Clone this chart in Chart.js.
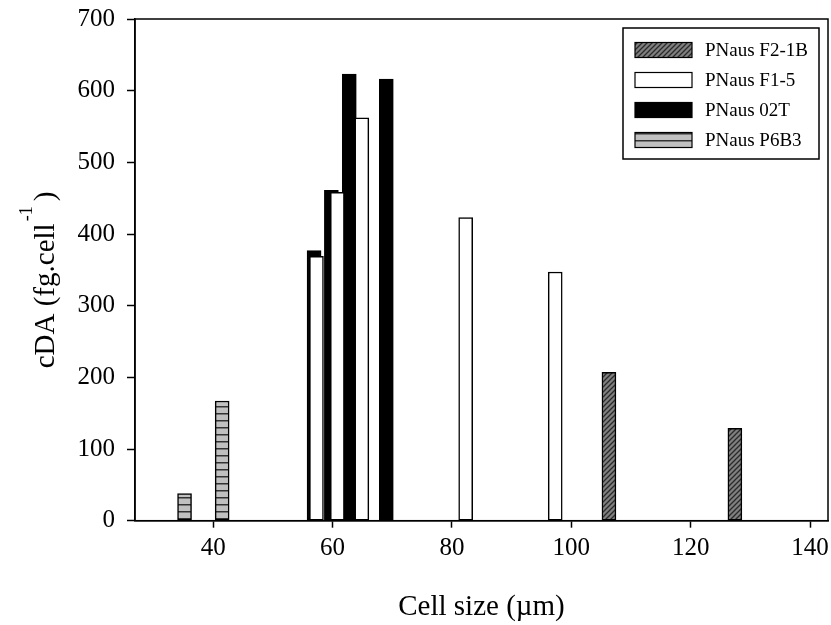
<!DOCTYPE html>
<html>
<head>
<meta charset="utf-8">
<script src="https://cdn.jsdelivr.net/npm/chart.js@4.4.0/dist/chart.umd.min.js"></script>
<style>
  html, body { margin: 0; padding: 0; background: #ffffff; }
  #wrap { width: 831px; height: 625px; }
</style>
</head>
<body>
<div id="wrap"><canvas id="chart" width="831" height="625"></canvas></div>
<script>
const seriesNames = ["PNaus F2-1B", "PNaus F1-5", "PNaus 02T", "PNaus P6B3"];

// cell size (µm) and cDA (fg/cell) per strain
const f21bSize = [106.3, 127.4];
const f21bCda = [207, 129];
const f15Size = [57.3, 60.8, 64.9, 82.3, 97.3];
const f15Cda = [369, 458, 562, 423, 347];
const t02Size = [56.9, 59.8, 62.8, 69.0];
const t02Cda = [377, 461, 623, 616];
const p6b3Size = [35.2, 41.5];
const p6b3Cda = [38, 167];

const xTicks = [40, 60, 80, 100, 120, 140];

const FONT = "'Liberation Serif', 'DejaVu Serif', serif";

function toPoints(xs, ys) {
  return xs.map((x, i) => ({ x: x, y: ys[i] }));
}

function makeHatch() {
  const c = document.createElement("canvas");
  c.width = 5; c.height = 5;
  const g = c.getContext("2d");
  g.fillStyle = "#808080";
  g.fillRect(0, 0, 5, 5);
  g.strokeStyle = "#2a2a2a";
  g.lineWidth = 1.3;
  g.beginPath();
  g.moveTo(-1, 6); g.lineTo(6, -1);
  g.moveTo(-1, 1); g.lineTo(1, -1);
  g.moveTo(4, 6); g.lineTo(6, 4);
  g.stroke();
  return g.createPattern(c, "repeat");
}

function makeStripes() {
  const c = document.createElement("canvas");
  c.width = 7; c.height = 7;
  const g = c.getContext("2d");
  g.fillStyle = "#c0c0c0";
  g.fillRect(0, 0, 7, 7);
  g.fillStyle = "#333333";
  g.fillRect(0, 0, 7, 1.5);
  return g.createPattern(c, "repeat");
}

const fills = [makeHatch(), "#ffffff", "#000000", makeStripes()];

// box round the plot area and the y title with its superscript
const framePlugin = {
  id: "frame",
  afterDraw(chart) {
    const { ctx, chartArea: a } = chart;
    ctx.save();
    ctx.strokeStyle = "#000";
    ctx.lineWidth = 1.5;
    ctx.strokeRect(a.left, a.top, a.right - a.left, a.bottom - a.top);

    ctx.translate(44, 280);
    ctx.rotate(-Math.PI / 2);
    ctx.fillStyle = "#000";
    ctx.textBaseline = "alphabetic";
    ctx.textAlign = "left";
    ctx.font = "29px " + FONT;
    const main = "cDA (fg.cell";
    const w1 = ctx.measureText(main).width;
    const total = w1 + 22 + ctx.measureText(")").width;
    let x = -total / 2;
    ctx.fillText(main, x, 10);
    ctx.font = "18px " + FONT;
    ctx.fillText("-1", x + w1 + 2, -12);
    ctx.font = "29px " + FONT;
    ctx.fillText(")", x + w1 + 22, 10);
    ctx.restore();
  }
};

// legend inside the plot, top right
const legendPlugin = {
  id: "boxLegend",
  afterDraw(chart) {
    const { ctx } = chart;
    const left = 623, top = 28, w = 196, h = 131;
    ctx.save();
    ctx.fillStyle = "#fff";
    ctx.fillRect(left, top, w, h);
    ctx.strokeStyle = "#000";
    ctx.lineWidth = 1.5;
    ctx.strokeRect(left, top, w, h);
    ctx.font = "19px " + FONT;
    ctx.textBaseline = "middle";
    ctx.textAlign = "left";
    chart.data.datasets.forEach((ds, i) => {
      const cy = 50 + i * 30;
      ctx.fillStyle = ds.backgroundColor;
      ctx.fillRect(635, cy - 7.5, 57, 15);
      ctx.lineWidth = 1.2;
      ctx.strokeStyle = "#000";
      ctx.strokeRect(635, cy - 7.5, 57, 15);
      ctx.fillStyle = "#000";
      ctx.fillText(ds.label, 705, cy + 1);
    });
    ctx.restore();
  }
};

const sizes = [f21bSize, f15Size, t02Size, p6b3Size];
const values = [f21bCda, f15Cda, t02Cda, p6b3Cda];

new Chart(document.getElementById("chart"), {
  type: "bar",
  data: {
    datasets: seriesNames.map((name, i) => ({
      label: name,
      data: toPoints(sizes[i], values[i]),
      backgroundColor: fills[i],
      borderColor: "#000000",
      borderWidth: 1.5,
      borderSkipped: false,
      barThickness: 14,
      grouped: false
    }))
  },
  options: {
    responsive: false,
    animation: false,
    layout: { padding: { left: 0, right: 3, top: 19, bottom: 0 } },
    plugins: {
      legend: { display: false },
      tooltip: { enabled: false }
    },
    scales: {
      x: {
        type: "linear",
        min: 26.9,
        max: 143,
        offset: false,
        afterBuildTicks: (s) => { s.ticks = xTicks.map(v => ({ value: v })); },
        afterFit: (s) => { s.height = 104.3; s.paddingLeft = 0; s.paddingRight = 0; },
        border: { display: true, color: "#000", width: 1.5 },
        grid: { display: true, drawOnChartArea: false, offset: false, tickLength: 7, tickColor: "#000", tickWidth: 1.5 },
        ticks: { color: "#000", font: { family: FONT, size: 25 }, padding: 6, maxRotation: 0 },
        title: {
          display: true,
          text: "Cell size (µm)",
          color: "#000",
          font: { family: FONT, size: 29 },
          padding: { top: 12, bottom: 0 }
        }
      },
      y: {
        min: 0,
        max: 700,
        ticks: { stepSize: 100, color: "#000", font: { family: FONT, size: 25 }, padding: 12 },
        afterFit: (s) => { s.width = 135; s.paddingTop = 0; s.paddingBottom = 0; },
        border: { display: true, color: "#000", width: 1.5 },
        grid: { display: true, drawOnChartArea: false, tickLength: 8, tickColor: "#000", tickWidth: 1.5 }
      }
    }
  },
  plugins: [framePlugin, legendPlugin]
});
</script>
</body>
</html>
